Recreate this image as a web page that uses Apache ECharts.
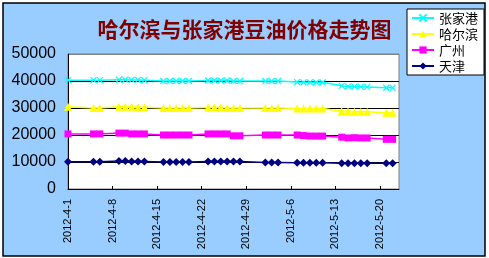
<!DOCTYPE html>
<html><head><meta charset="utf-8">
<script src="https://cdn.jsdelivr.net/npm/echarts@6/dist/echarts.min.js"></script>
<style>html,body{margin:0;padding:0;background:#fff}#c{width:489px;height:258px}</style>
</head><body><div id="c"></div>
<script>
// Axis categories (every calendar day shown on the date axis)
const axisDays = ["2012-4-1","2012-4-2","2012-4-3","2012-4-4","2012-4-5","2012-4-6","2012-4-7","2012-4-8","2012-4-9","2012-4-10","2012-4-11","2012-4-12","2012-4-13","2012-4-14","2012-4-15","2012-4-16","2012-4-17","2012-4-18","2012-4-19","2012-4-20","2012-4-21","2012-4-22","2012-4-23","2012-4-24","2012-4-25","2012-4-26","2012-4-27","2012-4-28","2012-4-29","2012-4-30","2012-5-1","2012-5-2","2012-5-3","2012-5-4","2012-5-5","2012-5-6","2012-5-7","2012-5-8","2012-5-9","2012-5-10","2012-5-11","2012-5-12","2012-5-13","2012-5-14","2012-5-15","2012-5-16","2012-5-17","2012-5-18","2012-5-19","2012-5-20","2012-5-21","2012-5-22","2012-5-23"];
// Trading days with quotes
const tradeDates = ["2012-4-1","2012-4-5","2012-4-6","2012-4-9","2012-4-10","2012-4-11","2012-4-12","2012-4-13","2012-4-16","2012-4-17","2012-4-18","2012-4-19","2012-4-20","2012-4-23","2012-4-24","2012-4-25","2012-4-26","2012-4-27","2012-4-28","2012-5-2","2012-5-3","2012-5-4","2012-5-7","2012-5-8","2012-5-9","2012-5-10","2012-5-11","2012-5-14","2012-5-15","2012-5-16","2012-5-17","2012-5-18","2012-5-21","2012-5-22"];
const zhangjiagang = [40300,40300,40300,40500,40500,40400,40400,40300,40000,40000,40000,40000,40000,40200,40200,40200,40200,40000,40000,40000,40000,40000,39600,39500,39500,39500,39500,38200,38000,37900,37900,37800,37500,37500];
const haerbin = [30500,30000,30000,30500,30500,30500,30300,30300,30000,30000,30000,30000,30000,30200,30200,30200,30000,30000,30000,30000,30000,30000,29800,29800,29800,29800,29800,28800,28800,28600,28600,28600,28200,28200];
const guangzhou = [20400,20400,20400,20700,20700,20400,20400,20400,20000,20000,20000,20000,20000,20400,20400,20400,20400,19700,19700,20000,20000,20000,20000,19800,19600,19600,19600,19200,18900,19000,18900,18900,18400,18400];
const tianjin = [10100,10100,10100,10400,10400,10200,10200,10200,10000,10000,10000,10000,10000,10200,10200,10200,10200,10200,10200,9800,9800,9800,9700,9700,9700,9700,9700,9500,9500,9500,9500,9500,9500,9500];
const seriesNames = ["张家港","哈尔滨","广州","天津"];
const yTicks = [0,10000,20000,30000,40000,50000];

const pair = arr => tradeDates.map((d,i)=>[d, arr[i]]);
const chart = echarts.init(document.getElementById('c'), null, {renderer:'canvas'});
const font = 'Liberation Sans';
function mk(name, arr, color, symbol, size, extra){
  return Object.assign({
    name, type:'line', data: pair(arr), symbol, symbolSize:size, showAllSymbol:true,
    lineStyle:{color, width:1.5}, itemStyle:{color, borderColor:color, borderWidth:0},
    animation:false
  }, extra||{});
}
chart.setOption({
  backgroundColor:'#ffffff',
  animation:false,
  graphic:[{type:'rect', z:-10, silent:true, shape:{x:3,y:3,width:482,height:253}, style:{fill:'#99CCFF', stroke:'#000', lineWidth:1.5}}],
  title:{text:'哈尔滨与张家港豆油价格走势图', left:'center', top:14,
    textStyle:{fontFamily:'Noto Sans CJK SC', fontSize:21, fontWeight:'bold', color:'#800000'}},
  legend:{orient:'vertical', left:407, top:9, padding:[2,6,2,4], itemGap:2, itemWidth:22, itemHeight:9,
    backgroundColor:'#fff', borderColor:'#000', borderWidth:1,
    textStyle:{fontFamily:'Noto Sans CJK SC', fontSize:13, color:'#000', lineHeight:14}, data:seriesNames},
  grid:{left:68, right:90, top:54, bottom:69, show:true, backgroundColor:'#fff', borderColor:'#808080', borderWidth:1},
  xAxis:{type:'category', data:axisDays, boundaryGap:false,
    axisLine:{lineStyle:{color:'#000', width:1}},
    axisTick:{inside:true, length:3, interval:6, lineStyle:{color:'#000'}},
    axisLabel:{interval:6, rotate:90, margin:10, fontFamily:font, fontSize:11, color:'#000'},
    splitLine:{show:false}},
  yAxis:{type:'value', min:yTicks[0], max:yTicks[yTicks.length-1], interval:10000,
    axisLine:{show:true, lineStyle:{color:'#000', width:1}}, axisTick:{show:false},
    axisLabel:{fontFamily:font, fontSize:16, color:'#000', margin:12, formatter:v=>String(v)},
    splitLine:{show:true, lineStyle:{color:['#000','#000','#000','#000','#000','#808080'], width:1}}},
  series:[
    mk(seriesNames[0], zhangjiagang, '#00FFFF', 'path://M0,0L10,10M10,0L0,10', 6, {itemStyle:{color:'#00FFFF', borderColor:'#00FFFF', borderWidth:1.2}}),
    mk(seriesNames[1], haerbin, '#FFFF00', 'triangle', 8),
    mk(seriesNames[2], guangzhou, '#FF00FF', 'rect', 7),
    mk(seriesNames[3], tianjin, '#000080', 'diamond', 8)
  ]
});
</script></body></html>
